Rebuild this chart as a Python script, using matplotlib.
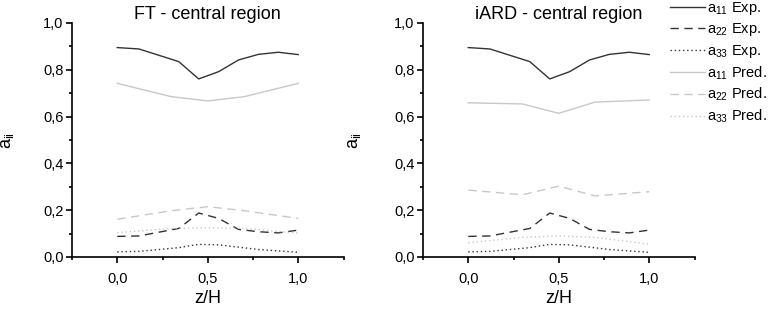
import matplotlib
matplotlib.use("Agg")
import matplotlib.pyplot as plt
from matplotlib.ticker import FuncFormatter, MultipleLocator
from matplotlib.lines import Line2D

plt.rcParams["font.family"] = ["Liberation Sans", "DejaVu Sans"]
plt.rcParams["mathtext.fontset"] = "custom"
plt.rcParams["mathtext.rm"] = "Liberation Sans"
plt.rcParams["mathtext.it"] = "Liberation Sans"

# experimental profiles (same in both panels)
Z_EXP = [0.0, 0.12, 0.34, 0.45, 0.56, 0.67, 0.78, 0.89, 1.0]
A11_EXP = [0.895, 0.889, 0.835, 0.761, 0.792, 0.842, 0.866, 0.875, 0.865]
A22_EXP = [0.088, 0.090, 0.122, 0.188, 0.165, 0.118, 0.108, 0.103, 0.115]
A33_EXP = [0.022, 0.024, 0.040, 0.054, 0.052, 0.042, 0.032, 0.026, 0.020]

# predicted profiles
Z_PRED = [0.0, 0.3, 0.5, 0.7, 1.0]
FT_A11 = [0.742, 0.685, 0.667, 0.685, 0.742]
FT_A22 = [0.161, 0.198, 0.215, 0.198, 0.165]
FT_A33 = [0.104, 0.122, 0.125, 0.122, 0.102]
IARD_A11 = [0.659, 0.654, 0.614, 0.662, 0.671]
IARD_A22 = [0.286, 0.266, 0.303, 0.261, 0.279]
IARD_A33 = [0.061, 0.084, 0.090, 0.084, 0.055]

TITLES = ["FT - central region", "iARD - central region"]
LEGEND_LABELS = [
    r"a$_{11}$ Exp.", r"a$_{22}$ Exp.", r"a$_{33}$ Exp.",
    r"a$_{11}$ Pred.", r"a$_{22}$ Pred.", r"a$_{33}$ Pred.",
]

EXP_COLOR = "#333333"
PRED_COLOR = "#c8c8c8"
DASH = (0, (6, 4))
DOT = (0, (1, 2))
STYLES = [
    (EXP_COLOR, "-"), (EXP_COLOR, DASH), (EXP_COLOR, DOT),
    (PRED_COLOR, "-"), (PRED_COLOR, DASH), (PRED_COLOR, DOT),
]


def comma_fmt(v, pos):
    return f"{v:.1f}".replace(".", ",")


def style_axis(ax):
    ax.set_xlim(-0.25, 1.25)
    ax.set_ylim(0, 1.0)
    ax.xaxis.set_major_locator(MultipleLocator(0.5))
    ax.xaxis.set_minor_locator(MultipleLocator(0.25))
    ax.yaxis.set_major_locator(MultipleLocator(0.2))
    ax.yaxis.set_minor_locator(MultipleLocator(0.1))
    ax.xaxis.set_major_formatter(FuncFormatter(comma_fmt))
    ax.yaxis.set_major_formatter(FuncFormatter(comma_fmt))
    ax.spines["top"].set_visible(False)
    ax.spines["right"].set_visible(False)
    for s in ("left", "bottom"):
        ax.spines[s].set_linewidth(1.2)
        ax.spines[s].set_color("black")
    ax.tick_params(which="major", direction="out", length=4, width=1.2, labelsize=10.5)
    ax.tick_params(axis="x", which="major", pad=7)
    ax.tick_params(axis="y", which="major", pad=2)
    ax.tick_params(which="minor", direction="out", length=2.2, width=1.2)
    ax.set_xlabel("z/H", fontsize=13, labelpad=3)
    ax.set_ylabel(r"a$_{\mathrm{ii}}$", fontsize=13)


fig = plt.figure(figsize=(7.68, 3.13), dpi=100)
ax1 = fig.add_axes([72 / 768, 1 - 257 / 313, 271.5 / 768, 234 / 313])
ax2 = fig.add_axes([423 / 768, 1 - 257 / 313, 271.5 / 768, 234 / 313])

preds = [(FT_A11, FT_A22, FT_A33), (IARD_A11, IARD_A22, IARD_A33)]
for ax, title, pred in zip([ax1, ax2], TITLES, preds):
    exp = (A11_EXP, A22_EXP, A33_EXP)
    for i, y in enumerate(exp):
        c, ls = STYLES[i]
        ax.plot(Z_EXP, y, color=c, linestyle=ls, linewidth=1.0)
    for i, y in enumerate(pred):
        c, ls = STYLES[i + 3]
        ax.plot(Z_PRED, y, color=c, linestyle=ls, linewidth=1.0)
    style_axis(ax)
    ax.set_title(title, fontsize=13, pad=2)

ax1.yaxis.set_label_coords(-0.206, 0.5)
ax2.yaxis.set_label_coords(-0.22, 0.5)

handles = [Line2D([], [], color=c, linestyle=ls, linewidth=1.0) for c, ls in STYLES]
fig.legend(handles, LEGEND_LABELS, loc="upper left", bbox_to_anchor=(670 / 768, 1.0),
           frameon=False, fontsize=10.5, handlelength=2.4, handletextpad=0.12,
           labelspacing=0.3, borderaxespad=0.0, borderpad=0.0)

fig.savefig("out.png", dpi=100)
